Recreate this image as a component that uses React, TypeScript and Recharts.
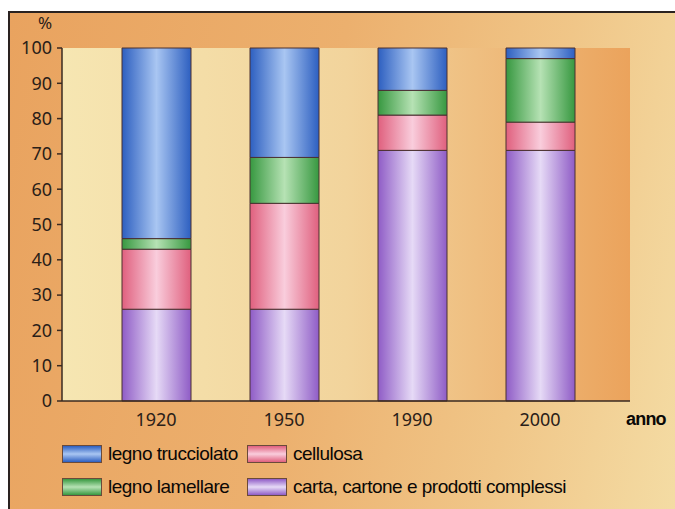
import { BarChart, Bar, XAxis, YAxis, CartesianGrid, Legend } from "recharts";

const ANNI = ["1920", "1950", "1990", "2000"];
const CARTA = [26, 26, 71, 71];
const CELLULOSA = [17, 30, 10, 8];
const LAMELLARE = [3, 13, 7, 18];
const TRUCCIOLATO = [54, 31, 12, 3];
const Y_TICKS = [0, 10, 20, 30, 40, 50, 60, 70, 80, 90, 100];

const SERIE = [
  { key: "carta", nome: "carta, cartone e prodotti complessi", bordo: "#8f5cc6", centro: "#e6daf6" },
  { key: "cellulosa", nome: "cellulosa", bordo: "#e0607e", centro: "#f9cddc" },
  { key: "lamellare", nome: "legno lamellare", bordo: "#379840", centro: "#b6e2b4" },
  { key: "trucciolato", nome: "legno trucciolato", bordo: "#2d5fc0", centro: "#a9c6f2" },
];

const ORDINE_LEGENDA = ["trucciolato", "cellulosa", "lamellare", "carta"];

const dati = ANNI.map((anno, i) => ({
  anno,
  carta: CARTA[i],
  cellulosa: CELLULOSA[i],
  lamellare: LAMELLARE[i],
  trucciolato: TRUCCIOLATO[i],
}));

const FONT_ASSI = "'Noto Sans', 'Open Sans', sans-serif";
const FONT_TESTO = "'Liberation Sans', Arial, sans-serif";

// la legenda ha altezza 0 così Recharts non toglie spazio al grafico
function Legenda() {
  const pos: Record<string, { left: number; top: number }> = {
    trucciolato: { left: 62, top: 445 },
    cellulosa: { left: 247, top: 445 },
    lamellare: { left: 62, top: 478 },
    carta: { left: 247, top: 478 },
  };
  return (
    <div style={{ position: "relative", width: 675, height: 0 }}>
      {ORDINE_LEGENDA.map((k) => {
        const s = SERIE.find((x) => x.key === k)!;
        const p = pos[k];
        return (
          <div
            key={k}
            style={{
              position: "absolute",
              left: p.left,
              top: p.top,
              display: "flex",
              alignItems: "center",
              height: 18,
            }}
          >
            <div
              style={{
                width: 38,
                height: 16,
                flexShrink: 0,
                border: "1px solid #6a4a3a",
                background: `linear-gradient(to bottom, ${s.bordo}, ${s.centro} 50%, ${s.bordo})`,
              }}
            />
            <span
              style={{
                marginLeft: 6,
                fontFamily: FONT_TESTO,
                fontSize: 19,
                lineHeight: "18px",
                letterSpacing: -0.5,
                color: "#0a0806",
                whiteSpace: "nowrap",
              }}
            >
              {s.nome}
            </span>
          </div>
        );
      })}
    </div>
  );
}

export default function App() {
  return (
    <div
      style={{
        position: "absolute",
        left: 0,
        top: 0,
        width: 675,
        height: 509,
        background: "#ffffff",
        overflow: "hidden",
      }}
    >
      <div
        style={{
          position: "absolute",
          left: 8,
          top: 11,
          width: 667,
          height: 498,
          borderLeft: "2px solid #2a2220",
          borderTop: "2px solid #2a2220",
          background: "linear-gradient(100deg, #e9a35f 0%, #ecb06e 45%, #f0c688 75%, #f4dca4 100%)",
        }}
      />
      <div
        style={{
          position: "absolute",
          left: 38,
          top: 11,
          fontFamily: FONT_ASSI,
          fontSize: 17,
          color: "#2a2018",
        }}
      >
        %
      </div>
      <div
        style={{
          position: "absolute",
          left: 626,
          top: 409,
          fontFamily: FONT_TESTO,
          fontSize: 18,
          fontWeight: "bold",
          letterSpacing: -0.8,
          color: "#0a0806",
        }}
      >
        anno
      </div>
      <div style={{ position: "absolute", left: 0, top: 0 }}>
        <BarChart
          width={675}
          height={509}
          data={dati}
          margin={{ top: 48, right: 45, left: 0, bottom: 78 }}
          barSize={69}
        >
          <defs>
            <linearGradient id="sfondoPlot" x1="0" y1="0" x2="1" y2="0">
              <stop offset="0%" stopColor="#f6e6b2" />
              <stop offset="50%" stopColor="#f2d49c" />
              <stop offset="80%" stopColor="#eeb878" />
              <stop offset="100%" stopColor="#eba35c" />
            </linearGradient>
            {SERIE.map((s) => (
              <linearGradient key={s.key} id={`grad-${s.key}`} x1="0" y1="0" x2="1" y2="0">
                <stop offset="0%" stopColor={s.bordo} />
                <stop offset="50%" stopColor={s.centro} />
                <stop offset="100%" stopColor={s.bordo} />
              </linearGradient>
            ))}
          </defs>
          <CartesianGrid horizontal={false} vertical={false} fill="url(#sfondoPlot)" />
          <XAxis
            dataKey="anno"
            padding={{ left: 30, right: 26 }}
            tickLine={false}
            axisLine={{ stroke: "#3a2a20", strokeWidth: 1.5 }}
            tick={{ fontFamily: FONT_ASSI, fontSize: 18, fill: "#2a2018" }}
            tickMargin={6}
            height={30}
          />
          <YAxis
            domain={[0, 100]}
            ticks={Y_TICKS}
            interval={0}
            width={62}
            tickSize={5}
            tickMargin={5}
            tickLine={{ stroke: "#3a2a20", strokeWidth: 1.5 }}
            axisLine={{ stroke: "#3a2a20", strokeWidth: 1.5 }}
            tick={{ fontFamily: FONT_ASSI, fontSize: 18, fill: "#2a2018" }}
          />
          <Legend
            verticalAlign="bottom"
            wrapperStyle={{ left: 0, top: 0, bottom: "auto", width: 675, height: 0 }}
            content={() => <Legenda />}
          />
          {SERIE.map((s) => (
            <Bar
              key={s.key}
              dataKey={s.key}
              name={s.nome}
              stackId="a"
              fill={`url(#grad-${s.key})`}
              stroke="#4a3030"
              strokeWidth={1}
              isAnimationActive={false}
            />
          ))}
        </BarChart>
      </div>
    </div>
  );
}
